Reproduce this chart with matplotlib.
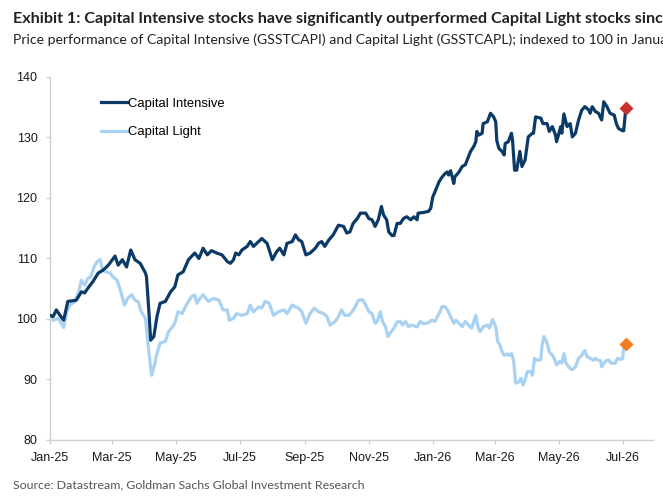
import numpy as np
import pandas as pd
import matplotlib
matplotlib.use("Agg")
import matplotlib.pyplot as plt
import matplotlib.dates as mdates
from matplotlib import font_manager

base_date = pd.Timestamp("2025-01-01")

# Capital Intensive (GSSTCAPI): days since 1 Jan 2025, index level
ci_days = [0, 3, 6, 10, 13, 17, 21, 25, 30, 33, 37, 41, 46, 50, 54, 57, 62, 65, 69, 73,
           77, 81, 86, 91, 92, 94, 96, 99, 102, 105, 110, 115, 119, 122, 127, 132, 138, 142, 146, 150,
           154, 159, 164, 169, 172, 175, 177, 180, 183, 188, 191, 194, 199, 202, 207, 212, 216, 219, 223, 226,
           231, 234, 237, 240, 244, 248, 253, 256, 259, 262, 266, 270, 275, 280, 283, 286, 289, 293, 296, 301,
           304, 307, 310, 313, 316, 318, 321, 323, 326, 328, 331, 334, 337, 340, 344, 347, 350, 351, 356, 361,
           363, 365, 367, 371, 374, 377, 379, 380, 382, 385, 386, 390, 393, 396, 399, 401, 404, 406, 407, 409,
           412, 413, 417, 420, 423, 425, 426, 428, 431, 433, 434, 437, 440, 441, 443, 445, 448, 450, 453, 456,
           460, 461, 463, 468, 470, 474, 476, 479, 482, 483, 487, 488, 490, 493, 496, 498, 501, 504, 507, 510,
           514, 515, 517, 520, 523, 526, 528, 531, 534, 538, 540, 542, 545, 547, 549]
ci_vals = [100.6, 100.4, 101.5, 100.5, 99.8, 102.9, 103.0, 103.1, 104.5, 104.3, 105.3, 106.2, 107.6, 108.0, 108.6, 109.2, 110.4, 108.9, 109.8, 108.6,
           111.4, 109.8, 109.2, 107.6, 107.0, 102.0, 96.5, 97.1, 100.4, 102.6, 102.9, 104.5, 105.3, 107.3, 107.8, 109.8, 110.9, 110.0, 111.7, 110.6,
           111.3, 110.9, 110.6, 109.5, 109.2, 109.8, 110.9, 110.6, 111.4, 112.0, 112.8, 112.0, 112.8, 113.3, 112.5, 109.8, 111.1, 111.7, 110.6, 112.5,
           112.8, 113.9, 113.1, 112.8, 110.6, 110.9, 111.7, 112.5, 112.8, 112.0, 113.1, 113.9, 115.5, 115.3, 114.2, 114.4, 115.8, 116.6, 117.5, 117.5,
           116.6, 116.4, 115.3, 116.4, 118.6, 117.2, 116.4, 114.4, 113.8, 113.8, 115.8, 115.8, 116.6, 116.9, 116.4, 116.9, 116.4, 117.5, 117.6, 117.8,
           118.3, 120.2, 121.0, 122.7, 123.5, 124.1, 124.3, 123.8, 124.5, 122.4, 123.5, 124.3, 125.2, 125.5, 126.8, 127.7, 128.5, 129.3, 131.0, 130.4,
           130.7, 132.3, 132.6, 134.0, 133.4, 132.6, 129.5, 128.2, 127.7, 127.1, 129.0, 129.3, 130.7, 129.6, 124.6, 124.6, 127.7, 125.2, 126.3, 130.1,
           130.7, 130.7, 133.4, 133.2, 132.3, 132.3, 131.0, 131.8, 130.4, 129.3, 131.8, 130.7, 133.9, 131.8, 132.3, 130.1, 130.7, 132.9, 134.5, 135.1,
           134.5, 134.0, 135.1, 134.3, 134.0, 132.9, 135.9, 135.1, 134.0, 133.7, 132.3, 131.5, 131.2, 131.1, 134.8]

# Capital Light (GSSTCAPL)
cl_days = [0, 3, 8, 13, 16, 19, 24, 27, 30, 33, 36, 39, 42, 45, 48, 50, 53, 57, 60, 64,
           67, 71, 74, 78, 81, 84, 87, 91, 92, 94, 97, 100, 102, 105, 110, 113, 116, 119, 122, 126,
           129, 132, 135, 138, 140, 143, 146, 151, 156, 161, 165, 169, 171, 175, 178, 183, 188, 191, 194, 199,
           202, 205, 209, 213, 218, 223, 226, 231, 234, 237, 240, 244, 248, 252, 256, 261, 264, 267, 272, 275,
           278, 281, 285, 288, 291, 294, 298, 301, 304, 307, 310, 312, 315, 317, 320, 322, 324, 328, 331, 334,
           336, 339, 342, 345, 348, 350, 353, 356, 361, 364, 367, 371, 374, 377, 379, 382, 385, 387, 390, 393,
           396, 399, 402, 406, 408, 410, 413, 417, 419, 422, 425, 427, 429, 431, 433, 436, 438, 440, 442, 444,
           447, 449, 451, 453, 455, 458, 460, 462, 464, 468, 469, 471, 474, 476, 480, 483, 486, 488, 490, 492,
           496, 498, 501, 504, 507, 510, 512, 515, 518, 520, 522, 525, 526, 530, 533, 535, 539, 541, 544, 546,
           547, 549]
cl_vals = [100.4, 99.8, 100.1, 98.6, 101.2, 102.3, 102.9, 104.3, 106.4, 105.6, 106.7, 107.0, 108.6, 109.5, 109.8, 108.1, 107.8, 107.6, 107.0, 106.4,
           104.8, 102.3, 103.4, 104.0, 103.1, 102.9, 101.2, 100.1, 98.5, 94.9, 90.7, 92.7, 94.3, 96.0, 96.3, 97.9, 98.5, 99.3, 101.2, 100.9,
           102.0, 102.9, 103.7, 104.0, 102.6, 103.4, 104.0, 102.9, 103.4, 103.1, 101.5, 101.5, 99.8, 100.1, 100.9, 100.6, 100.9, 102.3, 101.2, 102.0,
           101.8, 102.9, 102.6, 100.6, 101.2, 101.5, 100.9, 102.3, 102.0, 101.8, 101.2, 99.3, 100.9, 101.8, 101.2, 100.9, 100.4, 99.0, 99.6, 100.4,
           101.5, 100.6, 100.6, 101.2, 102.0, 103.1, 103.2, 102.3, 101.2, 100.9, 99.3, 99.6, 101.2, 99.6, 98.7, 97.1, 97.6, 98.5, 99.5, 99.6,
           99.0, 99.6, 98.7, 99.0, 98.8, 98.7, 99.6, 99.2, 99.4, 99.8, 99.6, 100.9, 102.1, 102.0, 101.5, 100.4, 99.3, 99.8, 99.3, 98.7,
           99.6, 99.0, 98.5, 100.6, 98.7, 97.9, 98.7, 99.0, 98.5, 99.9, 98.7, 96.2, 95.7, 94.6, 94.0, 94.2, 94.0, 94.3, 93.2, 89.4,
           89.6, 90.2, 89.1, 89.9, 91.3, 91.3, 90.7, 93.5, 93.2, 93.3, 95.4, 97.1, 96.0, 94.6, 93.8, 92.4, 93.0, 92.7, 94.3, 92.7,
           91.8, 91.6, 92.1, 93.5, 94.0, 94.8, 93.8, 93.5, 93.2, 93.5, 93.2, 93.1, 92.1, 93.1, 93.2, 92.7, 92.7, 93.5, 93.3, 93.5,
           95.2, 95.9]

tick_dates = pd.date_range("2025-01-01", "2026-07-01", freq="2MS")

ci_dates = base_date + pd.to_timedelta(ci_days, unit="D")
cl_dates = base_date + pd.to_timedelta(cl_days, unit="D")

plt.rcParams['font.family'] = ['Liberation Sans', 'DejaVu Sans']

# narrow face for the headings if the system has one
installed = {f.name for f in font_manager.fontManager.ttflist}
if "Liberation Sans Narrow" in installed:
    head_font, title_size, sub_size = ["Liberation Sans Narrow", "DejaVu Sans"], 11.6, 10.6
else:
    head_font, title_size, sub_size = ["Lato", "DejaVu Sans"], 11.6, 10.1

fig = plt.figure(figsize=(6.63, 4.98), dpi=100)
ax = fig.add_axes([0.0754, 0.1165, 0.9096, 0.7289])

dark = "#0c3a66"
light = "#a9d1f1"
ax.plot(cl_dates, cl_vals, color=light, lw=2.3, label="Capital Light", zorder=2)
ax.plot(ci_dates, ci_vals, color=dark, lw=2.3, label="Capital Intensive", zorder=3)
ax.plot(ci_dates[-1], ci_vals[-1], marker="D", ms=7, color="#c8302f", mec="none", zorder=4)
ax.plot(cl_dates[-1], cl_vals[-1], marker="D", ms=7, color="#f47c20", mec="none", zorder=4)

ax.set_ylim(80, 140)
ax.set_yticks([80, 90, 100, 110, 120, 130, 140])
ax.set_xlim(base_date, base_date + pd.Timedelta(days=575))
ax.set_xticks(tick_dates)
ax.xaxis.set_major_formatter(mdates.DateFormatter("%b-%y"))

for s in ["top", "right"]:
    ax.spines[s].set_visible(False)
for s in ["left", "bottom"]:
    ax.spines[s].set_color("#cfcfcf")
    ax.spines[s].set_linewidth(1.0)
ax.tick_params(axis="both", colors="#cfcfcf", labelcolor="#1a1a1a", labelsize=9, length=3, width=1, pad=6)

handles, labels = ax.get_legend_handles_labels()
leg = ax.legend(handles[::-1], labels[::-1], loc="upper left", bbox_to_anchor=(0.065, 0.975),
                frameon=False, fontsize=9.4, handlelength=2.0, handletextpad=0.1, labelspacing=1.25)

fig.text(0.02, 0.962, "Exhibit 1: Capital Intensive stocks have significantly outperformed Capital Light stocks since January 2025",
         fontsize=title_size, fontweight="bold", color="#222222", family=head_font, va="center")
fig.text(0.02, 0.92, "Price performance of Capital Intensive (GSSTCAPI) and Capital Light (GSSTCAPL); indexed to 100 in January 2025",
         fontsize=sub_size, color="#222222", family=head_font, va="center")
fig.text(0.02, 0.026, "Source: Datastream, Goldman Sachs Global Investment Research",
         fontsize=8.9, color="#555555", family=["Lato", "DejaVu Sans"], va="center")

fig.savefig("out.png", dpi=100)
